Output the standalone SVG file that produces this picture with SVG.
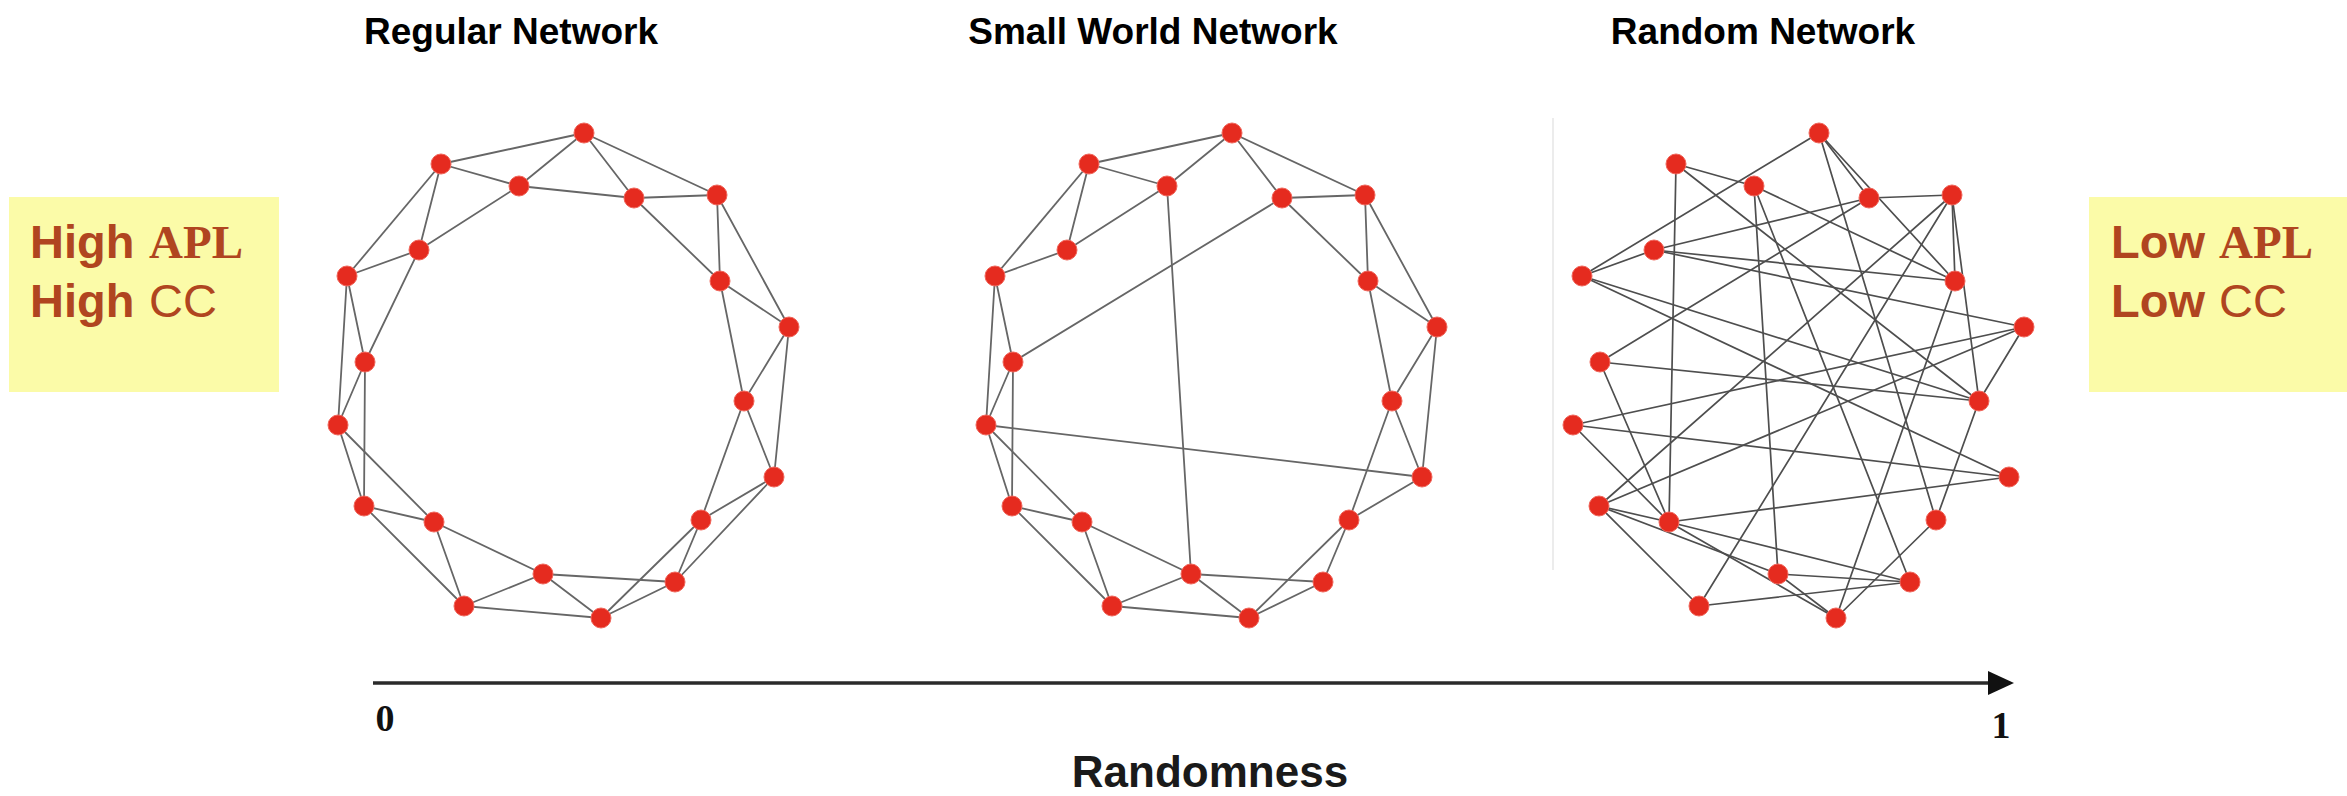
<svg xmlns="http://www.w3.org/2000/svg" width="2347" height="796" viewBox="0 0 2347 796">
<defs>
<style>
.title{font-family:"Liberation Sans",Arial,sans-serif;font-weight:bold;font-size:37px;fill:#000;text-anchor:middle}
.box{fill:#fbfba8}
.lbl{font-family:"Liberation Sans",Arial,sans-serif;font-size:47px;fill:#b04520}
.b{font-weight:bold}
.serif{font-family:"Liberation Serif","Times New Roman",serif;font-weight:bold}
.edges line{stroke:#666;stroke-width:1.8;stroke-linecap:round}
.rnd line{stroke:#4e4e4e;stroke-width:1.7}
.node circle{fill:#e52b1f;stroke:#f0655a;stroke-width:1}
.axis{stroke:#2a2a2a;stroke-width:3.5}
.num{font-family:"Liberation Serif","Times New Roman",serif;font-weight:bold;font-size:38px;fill:#111;text-anchor:middle}
.axlbl{font-family:"Liberation Sans",Arial,sans-serif;font-weight:bold;font-size:44px;fill:#1a1a1a;text-anchor:middle}
</style>
<marker id="arrow" markerUnits="userSpaceOnUse" viewBox="0 0 26 24" refX="0" refY="12" markerWidth="26" markerHeight="24" orient="auto">
<path d="M0,0 L26,12 L0,24 z" fill="#111"/>
</marker>
</defs>
<rect width="2347" height="796" fill="#fff"/>

<g id="titles">
<text class="title" x="511" y="44">Regular Network</text>
<text class="title" x="1153" y="44">Small World Network</text>
<text class="title" x="1763" y="44">Random Network</text>
</g>

<g id="box-left">
<rect class="box" x="9" y="197" width="270" height="195"/>
<text class="lbl" y="258"><tspan class="b" x="30">High</tspan><tspan class="serif" x="149">APL</tspan></text>
<text class="lbl" y="317"><tspan class="b" x="30">High</tspan><tspan x="149">CC</tspan></text>
</g>
<g id="box-right">
<rect class="box" x="2089" y="197" width="258" height="195"/>
<text class="lbl" y="258"><tspan class="b" x="2111">Low</tspan><tspan class="serif" x="2219">APL</tspan></text>
<text class="lbl" y="317"><tspan class="b" x="2111">Low</tspan><tspan x="2219">CC</tspan></text>
</g>

<line id="separator" x1="1553" y1="118" x2="1553" y2="570" stroke="#ececec" stroke-width="2"/>

<!-- Regular network -->
<g id="regular">
<g class="edges" id="regular-edges">
<line x1="584" y1="133" x2="441" y2="164"/>
<line x1="584" y1="133" x2="519" y2="186"/>
<line x1="584" y1="133" x2="634" y2="198"/>
<line x1="584" y1="133" x2="717" y2="195"/>
<line x1="441" y1="164" x2="519" y2="186"/>
<line x1="441" y1="164" x2="419" y2="250"/>
<line x1="441" y1="164" x2="347" y2="276"/>
<line x1="519" y1="186" x2="634" y2="198"/>
<line x1="519" y1="186" x2="419" y2="250"/>
<line x1="634" y1="198" x2="717" y2="195"/>
<line x1="634" y1="198" x2="720" y2="281"/>
<line x1="717" y1="195" x2="720" y2="281"/>
<line x1="717" y1="195" x2="789" y2="327"/>
<line x1="419" y1="250" x2="347" y2="276"/>
<line x1="419" y1="250" x2="365" y2="362"/>
<line x1="347" y1="276" x2="365" y2="362"/>
<line x1="347" y1="276" x2="338" y2="425"/>
<line x1="720" y1="281" x2="789" y2="327"/>
<line x1="720" y1="281" x2="744" y2="401"/>
<line x1="789" y1="327" x2="744" y2="401"/>
<line x1="789" y1="327" x2="774" y2="477"/>
<line x1="365" y1="362" x2="338" y2="425"/>
<line x1="365" y1="362" x2="364" y2="506"/>
<line x1="744" y1="401" x2="774" y2="477"/>
<line x1="744" y1="401" x2="701" y2="520"/>
<line x1="338" y1="425" x2="364" y2="506"/>
<line x1="338" y1="425" x2="434" y2="522"/>
<line x1="774" y1="477" x2="701" y2="520"/>
<line x1="774" y1="477" x2="675" y2="582"/>
<line x1="364" y1="506" x2="434" y2="522"/>
<line x1="364" y1="506" x2="464" y2="606"/>
<line x1="701" y1="520" x2="675" y2="582"/>
<line x1="701" y1="520" x2="601" y2="618"/>
<line x1="434" y1="522" x2="543" y2="574"/>
<line x1="434" y1="522" x2="464" y2="606"/>
<line x1="543" y1="574" x2="675" y2="582"/>
<line x1="543" y1="574" x2="464" y2="606"/>
<line x1="543" y1="574" x2="601" y2="618"/>
<line x1="675" y1="582" x2="601" y2="618"/>
<line x1="464" y1="606" x2="601" y2="618"/>
</g>
<g class="node" id="reg-A"><circle cx="584" cy="133" r="10"/></g>
<g class="node" id="reg-B"><circle cx="441" cy="164" r="10"/></g>
<g class="node" id="reg-C"><circle cx="519" cy="186" r="10"/></g>
<g class="node" id="reg-D"><circle cx="634" cy="198" r="10"/></g>
<g class="node" id="reg-E"><circle cx="717" cy="195" r="10"/></g>
<g class="node" id="reg-F"><circle cx="419" cy="250" r="10"/></g>
<g class="node" id="reg-G"><circle cx="347" cy="276" r="10"/></g>
<g class="node" id="reg-H"><circle cx="720" cy="281" r="10"/></g>
<g class="node" id="reg-I"><circle cx="789" cy="327" r="10"/></g>
<g class="node" id="reg-J"><circle cx="365" cy="362" r="10"/></g>
<g class="node" id="reg-K"><circle cx="744" cy="401" r="10"/></g>
<g class="node" id="reg-L"><circle cx="338" cy="425" r="10"/></g>
<g class="node" id="reg-M"><circle cx="774" cy="477" r="10"/></g>
<g class="node" id="reg-N"><circle cx="364" cy="506" r="10"/></g>
<g class="node" id="reg-O"><circle cx="701" cy="520" r="10"/></g>
<g class="node" id="reg-P"><circle cx="434" cy="522" r="10"/></g>
<g class="node" id="reg-Q"><circle cx="543" cy="574" r="10"/></g>
<g class="node" id="reg-R"><circle cx="675" cy="582" r="10"/></g>
<g class="node" id="reg-S"><circle cx="464" cy="606" r="10"/></g>
<g class="node" id="reg-T"><circle cx="601" cy="618" r="10"/></g>
</g>

<!-- Small world network -->
<g id="smallworld" transform="translate(648,0)">
<g class="edges" id="smallworld-edges">
<line x1="584" y1="133" x2="441" y2="164"/>
<line x1="584" y1="133" x2="519" y2="186"/>
<line x1="584" y1="133" x2="634" y2="198"/>
<line x1="584" y1="133" x2="717" y2="195"/>
<line x1="441" y1="164" x2="519" y2="186"/>
<line x1="441" y1="164" x2="419" y2="250"/>
<line x1="441" y1="164" x2="347" y2="276"/>
<line x1="519" y1="186" x2="543" y2="574"/>
<line x1="519" y1="186" x2="419" y2="250"/>
<line x1="634" y1="198" x2="717" y2="195"/>
<line x1="634" y1="198" x2="720" y2="281"/>
<line x1="634" y1="198" x2="365" y2="362"/>
<line x1="717" y1="195" x2="720" y2="281"/>
<line x1="717" y1="195" x2="789" y2="327"/>
<line x1="419" y1="250" x2="347" y2="276"/>
<line x1="347" y1="276" x2="365" y2="362"/>
<line x1="347" y1="276" x2="338" y2="425"/>
<line x1="720" y1="281" x2="789" y2="327"/>
<line x1="720" y1="281" x2="744" y2="401"/>
<line x1="789" y1="327" x2="744" y2="401"/>
<line x1="789" y1="327" x2="774" y2="477"/>
<line x1="365" y1="362" x2="338" y2="425"/>
<line x1="365" y1="362" x2="364" y2="506"/>
<line x1="744" y1="401" x2="774" y2="477"/>
<line x1="744" y1="401" x2="701" y2="520"/>
<line x1="338" y1="425" x2="364" y2="506"/>
<line x1="338" y1="425" x2="434" y2="522"/>
<line x1="338" y1="425" x2="774" y2="477"/>
<line x1="774" y1="477" x2="701" y2="520"/>
<line x1="364" y1="506" x2="434" y2="522"/>
<line x1="364" y1="506" x2="464" y2="606"/>
<line x1="701" y1="520" x2="675" y2="582"/>
<line x1="701" y1="520" x2="601" y2="618"/>
<line x1="434" y1="522" x2="543" y2="574"/>
<line x1="434" y1="522" x2="464" y2="606"/>
<line x1="543" y1="574" x2="675" y2="582"/>
<line x1="543" y1="574" x2="464" y2="606"/>
<line x1="543" y1="574" x2="601" y2="618"/>
<line x1="675" y1="582" x2="601" y2="618"/>
<line x1="464" y1="606" x2="601" y2="618"/>
</g>
<g class="node" id="sw-A"><circle cx="584" cy="133" r="10"/></g>
<g class="node" id="sw-B"><circle cx="441" cy="164" r="10"/></g>
<g class="node" id="sw-C"><circle cx="519" cy="186" r="10"/></g>
<g class="node" id="sw-D"><circle cx="634" cy="198" r="10"/></g>
<g class="node" id="sw-E"><circle cx="717" cy="195" r="10"/></g>
<g class="node" id="sw-F"><circle cx="419" cy="250" r="10"/></g>
<g class="node" id="sw-G"><circle cx="347" cy="276" r="10"/></g>
<g class="node" id="sw-H"><circle cx="720" cy="281" r="10"/></g>
<g class="node" id="sw-I"><circle cx="789" cy="327" r="10"/></g>
<g class="node" id="sw-J"><circle cx="365" cy="362" r="10"/></g>
<g class="node" id="sw-K"><circle cx="744" cy="401" r="10"/></g>
<g class="node" id="sw-L"><circle cx="338" cy="425" r="10"/></g>
<g class="node" id="sw-M"><circle cx="774" cy="477" r="10"/></g>
<g class="node" id="sw-N"><circle cx="364" cy="506" r="10"/></g>
<g class="node" id="sw-O"><circle cx="701" cy="520" r="10"/></g>
<g class="node" id="sw-P"><circle cx="434" cy="522" r="10"/></g>
<g class="node" id="sw-Q"><circle cx="543" cy="574" r="10"/></g>
<g class="node" id="sw-R"><circle cx="675" cy="582" r="10"/></g>
<g class="node" id="sw-S"><circle cx="464" cy="606" r="10"/></g>
<g class="node" id="sw-T"><circle cx="601" cy="618" r="10"/></g>
</g>

<!-- Random network -->
<g id="random" transform="translate(1235,0)">
<g class="edges rnd" id="random-edges">
<line x1="584" y1="133" x2="347" y2="276"/>
<line x1="584" y1="133" x2="634" y2="198"/>
<line x1="584" y1="133" x2="720" y2="281"/>
<line x1="584" y1="133" x2="701" y2="520"/>
<line x1="441" y1="164" x2="519" y2="186"/>
<line x1="441" y1="164" x2="434" y2="522"/>
<line x1="441" y1="164" x2="744" y2="401"/>
<line x1="519" y1="186" x2="543" y2="574"/>
<line x1="519" y1="186" x2="720" y2="281"/>
<line x1="519" y1="186" x2="675" y2="582"/>
<line x1="634" y1="198" x2="717" y2="195"/>
<line x1="634" y1="198" x2="365" y2="362"/>
<line x1="634" y1="198" x2="419" y2="250"/>
<line x1="717" y1="195" x2="720" y2="281"/>
<line x1="717" y1="195" x2="744" y2="401"/>
<line x1="717" y1="195" x2="364" y2="506"/>
<line x1="717" y1="195" x2="464" y2="606"/>
<line x1="419" y1="250" x2="347" y2="276"/>
<line x1="419" y1="250" x2="720" y2="281"/>
<line x1="419" y1="250" x2="789" y2="327"/>
<line x1="347" y1="276" x2="774" y2="477"/>
<line x1="347" y1="276" x2="744" y2="401"/>
<line x1="789" y1="327" x2="338" y2="425"/>
<line x1="789" y1="327" x2="364" y2="506"/>
<line x1="789" y1="327" x2="744" y2="401"/>
<line x1="365" y1="362" x2="434" y2="522"/>
<line x1="365" y1="362" x2="744" y2="401"/>
<line x1="338" y1="425" x2="774" y2="477"/>
<line x1="338" y1="425" x2="434" y2="522"/>
<line x1="364" y1="506" x2="434" y2="522"/>
<line x1="364" y1="506" x2="464" y2="606"/>
<line x1="364" y1="506" x2="543" y2="574"/>
<line x1="434" y1="522" x2="774" y2="477"/>
<line x1="434" y1="522" x2="675" y2="582"/>
<line x1="434" y1="522" x2="601" y2="618"/>
<line x1="543" y1="574" x2="601" y2="618"/>
<line x1="543" y1="574" x2="675" y2="582"/>
<line x1="464" y1="606" x2="675" y2="582"/>
<line x1="601" y1="618" x2="701" y2="520"/>
<line x1="601" y1="618" x2="720" y2="281"/>
<line x1="744" y1="401" x2="701" y2="520"/>
</g>
<g class="node" id="rnd-A"><circle cx="584" cy="133" r="10"/></g>
<g class="node" id="rnd-B"><circle cx="441" cy="164" r="10"/></g>
<g class="node" id="rnd-C"><circle cx="519" cy="186" r="10"/></g>
<g class="node" id="rnd-D"><circle cx="634" cy="198" r="10"/></g>
<g class="node" id="rnd-E"><circle cx="717" cy="195" r="10"/></g>
<g class="node" id="rnd-F"><circle cx="419" cy="250" r="10"/></g>
<g class="node" id="rnd-G"><circle cx="347" cy="276" r="10"/></g>
<g class="node" id="rnd-H"><circle cx="720" cy="281" r="10"/></g>
<g class="node" id="rnd-I"><circle cx="789" cy="327" r="10"/></g>
<g class="node" id="rnd-J"><circle cx="365" cy="362" r="10"/></g>
<g class="node" id="rnd-K"><circle cx="744" cy="401" r="10"/></g>
<g class="node" id="rnd-L"><circle cx="338" cy="425" r="10"/></g>
<g class="node" id="rnd-M"><circle cx="774" cy="477" r="10"/></g>
<g class="node" id="rnd-N"><circle cx="364" cy="506" r="10"/></g>
<g class="node" id="rnd-O"><circle cx="701" cy="520" r="10"/></g>
<g class="node" id="rnd-P"><circle cx="434" cy="522" r="10"/></g>
<g class="node" id="rnd-Q"><circle cx="543" cy="574" r="10"/></g>
<g class="node" id="rnd-R"><circle cx="675" cy="582" r="10"/></g>
<g class="node" id="rnd-S"><circle cx="464" cy="606" r="10"/></g>
<g class="node" id="rnd-T"><circle cx="601" cy="618" r="10"/></g>
</g>

<g id="axis">
<line class="axis" x1="373" y1="683" x2="1988" y2="683" marker-end="url(#arrow)"/>
<text class="num" x="385" y="731">0</text>
<text class="num" x="2001" y="738">1</text>
<text class="axlbl" x="1210" y="787">Randomness</text>
</g>
</svg>
